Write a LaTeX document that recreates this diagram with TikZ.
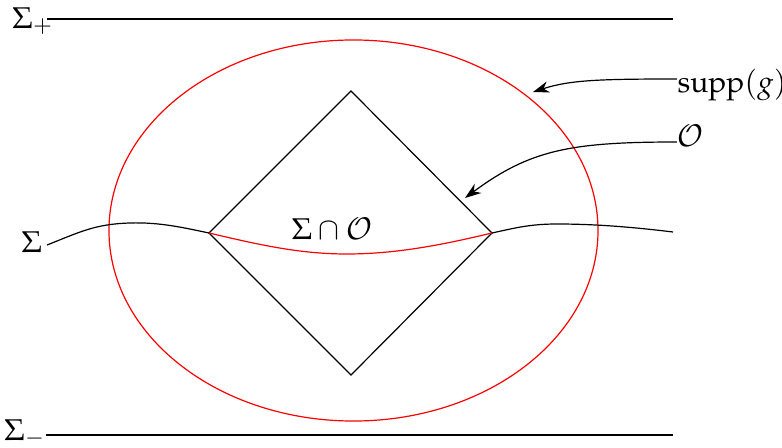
\documentclass[tikz,border=0pt]{standalone}
\usepackage{mathpazo}
\usetikzlibrary{arrows.meta,shapes.geometric}
\begin{document}
\begin{tikzpicture}[x=0.3333pt,y=-0.3333pt,
  thinline/.style={line width=0.4pt},
  redline/.style={red,line width=0.4pt},
  lbl/.style={inner sep=0pt},
  pointer/.style={line width=0.4pt,-{Stealth[length=5.4pt,width=3.8pt]}}]
\useasboundingbox (0,0) rectangle (782,448);
% horizon lines
\node[lbl] (sp) at (33,21) {$\Sigma_+$};
\coordinate (spstart) at (47,19);
\coordinate (spend) at (673,19);
\draw[thinline] (spstart) -- (spend);
\node[lbl] (sm) at (25,433) {$\Sigma_-$};
\coordinate (smstart) at (46,435);
\coordinate (smend) at (673,435);
\draw[thinline] (smstart) -- (smend);
% ellipse
\node[draw=red,line width=0.4pt,ellipse,minimum width=163pt,minimum height=127pt,inner sep=0pt] (supp) at (353.5,230.5) {};
% diamond
\coordinate (dt) at (351,91);
\coordinate (db) at (351,375);
\coordinate (dl) at (209,233);
\coordinate (dr) at (492,233);
\draw[thinline] (dt) -- (dr) -- (db) -- (dl) -- cycle;
% Sigma curve
\node[lbl] (sig) at (32,242) {$\Sigma$};
\coordinate (s0) at (47,245);
\coordinate (s3) at (673,232);
\draw[thinline] (s0) .. controls (80,232) and (95,224) .. (130,223)
  .. controls (160,222) and (185,228) .. (dl);
\draw[thinline] (dr) .. controls (515,228) and (530,224) .. (557,224)
  .. controls (600,224) and (640,228) .. (s3);
\draw[redline] (dl) .. controls (260,245) and (300,254) .. (347,254)
  .. controls (400,254) and (450,243) .. (dr);
\node[lbl] (so) at (332,229) {$\Sigma\cap\mathcal{O}$};
% labels with arrows
\node[lbl,anchor=west] (g) at (677,85) {$\mathrm{supp}(g)$};
\node[lbl,anchor=west] (o) at (677,136) {$\mathcal{O}$};
\coordinate (gt) at (533,92);
\coordinate (ot) at (465,198);
\draw[pointer] (g.west |- 0,79) .. controls (600,79) and (570,80) .. (gt);
\draw[pointer] (o.west |- 0,142) .. controls (570,142) and (530,150) .. (ot);
\end{tikzpicture}
\end{document}
